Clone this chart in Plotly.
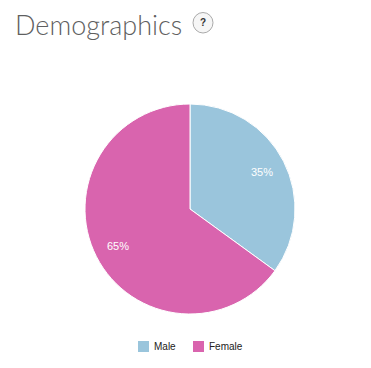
import math
import plotly.graph_objects as go

categories = ["Male", "Female"]
values = [35, 65]
colors = ["#9AC5DC", "#D964AE"]
title_text = "Demographics"

PAGE_OFFSET = 8  # the browser's default body margin
W, H = 371 - PAGE_OFFSET, 368 - PAGE_OFFSET


def px(x):
    return (x - PAGE_OFFSET) / W


def py(y):
    return 1 - (y - PAGE_OFFSET) / H


cx, cy, r = 190, 209, 105
label_r = 81
LABEL_FONT = "Liberation Sans, Arial"

annotations = [
    dict(text=title_text, x=px(15), y=py(24.5), xanchor="left", yanchor="middle",
         borderpad=0, borderwidth=0,
         font=dict(family="Lato Light, Lato", size=27, color="#5F5F5F")),
    dict(text="<b>?</b>", x=px(203), y=py(23), xanchor="center", yanchor="middle",
         font=dict(family=LABEL_FONT, size=10, color="#333333")),
]
shapes = [dict(type="circle", xref="paper", yref="paper",
               x0=px(193), x1=px(213), y0=py(33), y1=py(12.5),
               line=dict(color="#AAAAAA", width=1), fillcolor="#F6F6F6")]

# percentage labels placed along each slice's middle angle
total = sum(values)
running = 0
for v in values:
    mid = (running + v / 2) / total * 2 * math.pi
    running += v
    annotations.append(dict(
        text=f"{round(v / total * 100)}%",
        x=px(cx + label_r * math.sin(mid)), y=py(cy - label_r * math.cos(mid)),
        xanchor="center", yanchor="middle",
        font=dict(family=LABEL_FONT, size=11, color="white")))

# legend row
legend_x = [138, 193]
for name, col, lx in zip(categories, colors, legend_x):
    shapes.append(dict(type="rect", xref="paper", yref="paper",
                       x0=px(lx), x1=px(lx + 11), y0=py(352), y1=py(341),
                       line=dict(width=0), fillcolor=col))
    annotations.append(dict(text=name, x=px(lx + 13.5), y=py(346.5), xanchor="left", yanchor="middle",
                            font=dict(family=LABEL_FONT, size=10, color="#222222")))

for a in annotations:
    a.update(xref="paper", yref="paper", showarrow=False)

fig = go.Figure(go.Pie(
    labels=categories, values=values, sort=False, direction="clockwise", rotation=0,
    marker=dict(colors=colors, line=dict(color="white", width=1)),
    textinfo="none", hoverinfo="label+percent",
    domain=dict(x=[px(cx - r), px(cx + r)], y=[py(cy + r), py(cy - r)]),
))
fig.update_layout(
    width=W, height=H, autosize=False, margin=dict(l=0, r=0, t=0, b=0),
    paper_bgcolor="white", plot_bgcolor="white", showlegend=False,
    annotations=annotations, shapes=shapes,
)
fig.write_html("out.html")
